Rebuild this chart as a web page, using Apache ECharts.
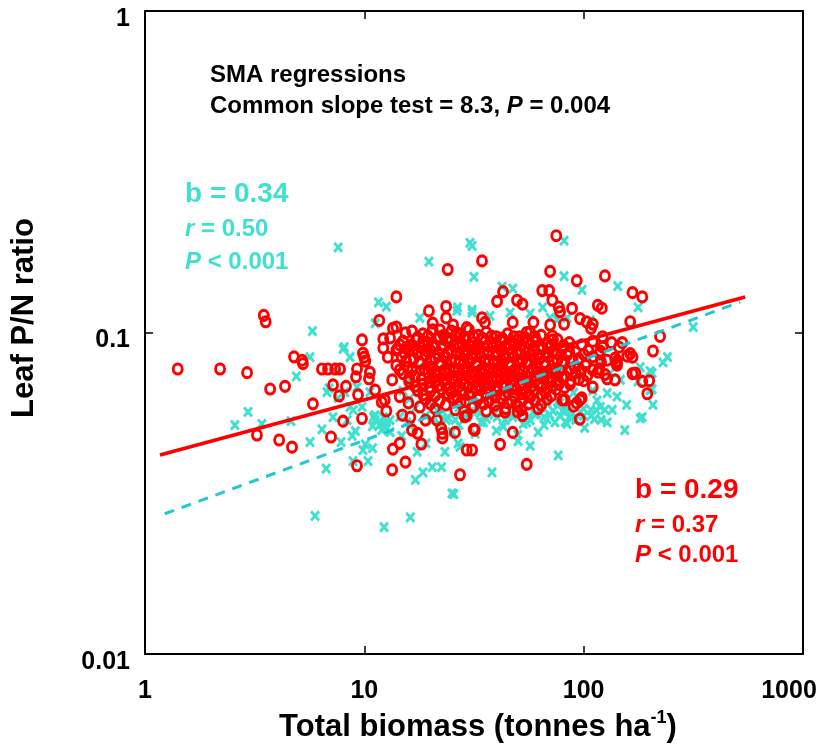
<!DOCTYPE html>
<html><head><meta charset="utf-8">
<script src="https://cdn.jsdelivr.net/npm/echarts@6/dist/echarts.min.js"></script>
<style>html,body{margin:0;padding:0;background:#fff}#c{width:823px;height:751px}</style>
</head><body><div id="c"></div>
<script>
// ---- tick labels ----
const xTickLabels = ['1', '10', '100', '1000'];
const yTickLabels = ['0.01', '0.1', '1'];

// ---- red series (o), outlying / sparse points [biomass, P/N] ----
const redOutliers = [
[1.41,0.077],[2.2,0.077],[2.92,0.075],[3.48,0.113],[3.55,0.108],[3.72,0.0667],[4.35,0.068],[4.78,0.084],[5.2,0.082],[5.25,0.080],
[3.24,0.048],[4.09,0.0463],[4.68,0.044],[5.83,0.060],[6.41,0.077],[6.83,0.077],[7.36,0.077],[7.75,0.077],[7.2,0.0687],[7.67,0.0635],
[8.25,0.068],[8.0,0.053],[7.05,0.0473],[9.76,0.0948],[9.86,0.0862],[10.0,0.0838],[9.26,0.077],[9.16,0.0728],[10.6,0.0752],[10.5,0.0718],
[9.36,0.064],[9.76,0.054],[9.26,0.0385],[11.7,0.109],[12.2,0.0955],[12.2,0.0895],[12.8,0.0838],[14.0,0.129],[13.5,0.0434],[13.4,0.0374],
[12.6,0.057],[12.4,0.0617],[10.1,0.0815],[11.2,0.0662],[12.0,0.0608],[13.4,0.0712],[14.5,0.0632],[14.5,0.0452],[15.4,0.0395],[14.9,0.0553],
[16.2,0.0545],[16.5,0.0497],[17.5,0.0486],[18.2,0.045],[19.0,0.0534],[15.9,0.0604],[17.9,0.0587],[21.4,0.0534],[22.7,0.0486],[22.7,0.047],
[25.9,0.0489],[27.3,0.0361],[29.3,0.0431],[29.3,0.0551],[20.5,0.107],[22.1,0.1018],[23.6,0.111],[25.4,0.1055],[26.4,0.0997],[29.3,0.1035],
[19.7,0.1167],[23.6,0.1205],[24,0.157],[13.5,0.103],[15.4,0.0997],[13.1,0.0962],[14.0,0.0882],[15.6,0.090],[16.7,0.0882],[18.5,0.0937],[14.0,0.104],
[75,0.20],[34.4,0.167],[70.3,0.155],[93,0.145],[125,0.150],[167,0.133],[185,0.129],[64.7,0.135],[69.6,0.135],[72,0.126],
[42.9,0.134],[40.3,0.125],[49.7,0.126],[52.6,0.1225],[116,0.1215],[121,0.119],[163,0.108],[223,0.0972],[207,0.0876],[167,0.0745],
[185,0.0705],[199,0.0708],[195,0.0645],[158,0.0844],[163,0.086],[142,0.0815],[142,0.0792],[125,0.074],[128,0.0718],[116,0.0753],
[110,0.0676],[100,0.0708],[98,0.0626],[93,0.0604],[96,0.0538],[82,0.0617],[76.5,0.0708],[70.3,0.0705],[86.7,0.069],[77,0.12],
[88.5,0.1188],[96.3,0.1105],[81.4,0.1062],[103,0.108],[110,0.1062],[70.3,0.1055],[59,0.1075],[47.5,0.1075],[34.4,0.111],[35.5,0.1075],
[55,0.1],[72.5,0.0948],[110,0.0938],[122,0.097],[134,0.093],[150,0.093],[47.5,0.0489],[41.6,0.0449],[55,0.0389],[52.6,0.0551],
[50,0.0566],[40.5,0.057],[43.8,0.0566],[31.9,0.0497],[31,0.0431],[108,0.103],[167,0.0838],[139,0.0832],[141,0.080],[139,0.0712],
[172,0.0748],[96.3,0.0617],[90,0.059],[80,0.0617],[119,0.0876],[122,0.090],[145,0.090],[78,0.116],[22.4,0.0504],[28.7,0.0547],[31.5,0.05]
];

// ---- red series (o), dense central cloud ----
const redCore = [
[16.5,0.101],[18.5,0.099],[20.5,0.102],[23,0.098],[25,0.101],[27.5,0.099],[30,0.102],[33,0.098],[36,0.1],[40,0.097],[45,0.099],[51,0.097],[57,0.1],[64,0.098],
[15,0.094],[17.2,0.095],[19.5,0.093],[21.5,0.096],[24,0.094],[26.5,0.092],[29,0.095],[31.5,0.093],[34.5,0.095],[38,0.093],[42,0.094],[46,0.092],[50,0.095],[55,0.093],[61,0.094],[68,0.092],[76,0.095],[86,0.093],
[14.2,0.089],[16,0.088],[18,0.090],[20,0.088],[22.5,0.089],[25,0.087],[27,0.09],[29.5,0.088],[32,0.089],[35,0.087],[38.5,0.09],[42,0.088],[45.5,0.089],[49.5,0.087],[54,0.09],[59,0.088],[65,0.089],[72,0.087],[80,0.089],[92,0.087],[105,0.088],
[14.8,0.084],[16.8,0.083],[19,0.085],[21,0.083],[23.5,0.084],[26,0.082],[28.5,0.085],[31,0.083],[34,0.084],[37,0.082],[40.5,0.085],[44,0.083],[48,0.084],[52.5,0.082],[57.5,0.085],[63,0.083],[69,0.084],[76,0.082],[84,0.085],[95,0.083],[110,0.084],[128,0.082],
[14,0.079],[15.8,0.078],[18,0.08],[20,0.078],[22,0.079],[24.5,0.077],[27,0.08],[29.5,0.078],[32.5,0.079],[35.5,0.077],[39,0.08],[42.5,0.078],[46.5,0.079],[51,0.077],[56,0.08],[61,0.078],[67,0.079],[74,0.077],[82,0.08],[91,0.078],[102,0.079],[118,0.077],
[15,0.0745],[17,0.073],[19.5,0.075],[21.5,0.0735],[24,0.0745],[26.5,0.073],[29,0.075],[32,0.0735],[35,0.0745],[38.5,0.073],[42,0.075],[46,0.0735],[50.5,0.0745],[55.5,0.073],[61,0.075],[67,0.0735],[74,0.0745],[82,0.073],[92,0.075],[104,0.0735],
[16,0.0705],[18.5,0.069],[21,0.0705],[23.5,0.069],[26,0.0705],[28.5,0.069],[31.5,0.0705],[35,0.069],[38.5,0.0705],[42.5,0.069],[46.5,0.0705],[51,0.069],[56,0.0705],[62,0.069],[69,0.0705],[77,0.069],[87,0.0705],
[17.5,0.066],[20,0.0655],[22.5,0.0665],[25,0.065],[28,0.066],[31,0.065],[34,0.0665],[37.5,0.065],[41,0.066],[45,0.065],[49.5,0.0665],[54.5,0.065],[60,0.066],[67,0.065],[75,0.0665],
[19,0.062],[22,0.0612],[25.5,0.0625],[29,0.061],[33,0.062],[37,0.0612],[42,0.0625],[47,0.061],[53,0.062],[60,0.0612],[68,0.062],
[21,0.058],[26,0.0575],[31,0.0585],[36,0.057],[44,0.058],[52,0.0575],[62,0.058],
[17.5,0.0965],[19.5,0.0975],[22,0.097],[24,0.096],[26,0.0975],[28.5,0.0965],[31.5,0.097],[34.5,0.096],[38,0.0975],[42.5,0.096],[48,0.097],[54,0.0965],[60,0.097],[72,0.0975],
[14.5,0.0915],[16.2,0.091],[18.5,0.092],[20.5,0.0905],[23,0.0915],[25.5,0.091],[28,0.092],[30.5,0.0905],[33,0.0915],[36.5,0.091],[40,0.092],[44,0.0905],[48,0.0915],[52,0.091],[57,0.092],[64,0.0905],[71,0.0915],[81,0.091],[98,0.0915],
[15.2,0.0865],[17.5,0.086],[19.5,0.087],[21.8,0.0855],[24,0.0865],[26.5,0.086],[28.8,0.087],[31,0.0855],[33.5,0.0865],[36.5,0.086],[40,0.087],[43.5,0.0855],[47,0.0865],[51.5,0.086],[56,0.087],[61.5,0.0855],[68,0.0865],[76,0.086],[86,0.087],[100,0.0855],[118,0.086],
[15.5,0.0815],[17.8,0.081],[20,0.082],[22.2,0.0805],[24.8,0.0815],[27.3,0.081],[30,0.082],[32.5,0.0805],[35.5,0.0815],[38.8,0.081],[42.2,0.082],[46,0.0805],[50,0.0815],[55,0.081],[60,0.082],[66,0.0805],[72.5,0.0815],[80,0.081],[89,0.082],[103,0.0805],[120,0.081],
[14.5,0.0765],[16.5,0.076],[18.8,0.077],[21,0.0755],[23.2,0.0765],[25.8,0.076],[28.2,0.077],[30.8,0.0755],[34,0.0765],[37,0.076],[40.5,0.077],[44,0.0755],[48.5,0.0765],[53,0.076],[58.5,0.077],[64,0.0755],[70.5,0.0765],[78,0.076],[87,0.077],[97,0.0755],[110,0.0765],
[16,0.0722],[18.2,0.0715],[20.5,0.0725],[22.8,0.0712],[25.2,0.0722],[27.8,0.0715],[30.5,0.0725],[33.5,0.0712],[36.8,0.0722],[40.2,0.0715],[44,0.0725],[48.2,0.0712],[53,0.0722],[58.5,0.0715],[64.5,0.0725],[71.5,0.0712],[80,0.0722],[95,0.0715],
[17,0.068],[19.8,0.0675],[22,0.0685],[24.5,0.067],[27,0.068],[29.8,0.0675],[33,0.0685],[36.5,0.067],[40,0.068],[44,0.0675],[48.5,0.0685],[53,0.067],[58,0.068],[64.5,0.0675],[72,0.068],[82,0.0675],
[18.5,0.064],[21,0.0635],[24,0.0645],[26.5,0.063],[30,0.064],[33,0.0635],[36,0.0645],[39.5,0.063],[43.5,0.064],[48,0.0635],[52,0.0645],[57,0.063],[64,0.064],[71,0.0635],
[20,0.06],[23.5,0.0595],[27.5,0.0605],[31.5,0.059],[35,0.06],[39.5,0.0595],[45,0.0605],[50,0.059],[56,0.06],[64,0.0595]
];

// ---- cyan series (x), outlying / sparse points ----
const cyanOutliers = [
[7.6,0.184],[5.8,0.101],[8.1,0.090],[5.65,0.0838],[4.9,0.073],[2.95,0.0566],[2.57,0.0515],[3.41,0.052],[4.63,0.053],[6.41,0.050],
[5.65,0.0456],[7.83,0.0456],[6.7,0.0377],[8.88,0.0398],[10.4,0.0398],[5.96,0.0269],[12.3,0.0248],[11.6,0.124],[12.6,0.1203],[11.2,0.1068],
[8.61,0.0838],[7.5,0.0776],[8.15,0.0652],[6.76,0.0652],[8.61,0.0587],[9.76,0.0587],[8.35,0.0534],[7.2,0.0545],[9.1,0.0493],[11.2,0.0534],
[10.6,0.0652],[9.26,0.0676],[12.6,0.0508],[10.9,0.0437],[9.86,0.0431],[8.0,0.0888],[6.9,0.067],[7.6,0.0626],[8.9,0.0574],[11.0,0.0545],
[8.8,0.0477],[10.1,0.0449],[16.2,0.0266],[25.6,0.0314],[17.1,0.0348],[18.5,0.0367],[20.4,0.0381],[22.5,0.0381],[17.4,0.0425],[19.1,0.0452],
[23.3,0.0425],[26.8,0.0452],[17.9,0.111],[26.4,0.1167],[11.2,0.0553],[12.2,0.0545],[13.1,0.0534],[11.8,0.0518],[10.9,0.0511],[12.4,0.0508],
[14.5,0.0545],[15.6,0.0525],[16.2,0.0511],[14.8,0.0477],[13.1,0.049],
[30.3,0.19],[31,0.186],[81.4,0.193],[19.7,0.166],[31.6,0.149],[81.4,0.1497],[98.3,0.1356],[42.5,0.139],[47.5,0.137],[26.6,0.1197],
[31,0.1154],[65,0.1197],[70.3,0.111],[107,0.109],[143,0.1395],[177,0.1197],[230,0.0808],[181,0.078],[201,0.0758],[177,0.0705],
[201,0.0662],[207,0.0596],[157,0.0596],[185,0.0545],[154,0.0497],[142,0.0632],[128,0.0648],[112,0.0538],[101,0.0505],[76.5,0.0415],
[57,0.0444],[50.2,0.0459],[38.2,0.0367],[25.1,0.0316],[82.4,0.0527],[68,0.0604],[72.5,0.057],[78,0.0551],[86.7,0.0574],[61,0.0559],
[53.6,0.0574],[75.7,0.1093],[83.9,0.111],[57,0.1146],[46.2,0.1154],[37.4,0.1127],[31,0.1175],[316,0.104],[241,0.0838],[205,0.0748],
[205,0.0667],[181,0.0541],[119,0.0587],[108,0.0574],[86.7,0.0551],[119,0.0808],[132,0.0748],[147,0.0712],[27.3,0.0441],[12,0.0497],
[12.6,0.0525],[78,0.0604],[114,0.0574],[96.3,0.0566],[68,0.0538],[57,0.0534],[47.5,0.0545],[40.3,0.0545],[33.7,0.056],[29.3,0.0545],
[23.6,0.0534],[20.5,0.0534],
[22,0.056],[26,0.0535],[30,0.0565],[35,0.0525],[39,0.0555],[44,0.0535],[49,0.0565],[55,0.0525],[60,0.0555],[66,0.0545],
[74,0.0525],[82,0.0565],[92,0.0535],[100,0.055],[120,0.0535],[135,0.0575],[128,0.0525]
];

// ---- cyan series (x), dense central cloud ----
const cyanCore = [
[20,0.085],[26,0.086],[33,0.084],[42,0.085],[55,0.084],[70,0.086],
[18,0.078],[24,0.079],[30,0.077],[38,0.078],[48,0.079],[62,0.077],[80,0.078],
[16,0.072],[21,0.073],[27,0.071],[34,0.072],[44,0.073],[57,0.071],[75,0.072],[95,0.073],
[15,0.066],[19,0.067],[24,0.065],[30,0.066],[37,0.067],[46,0.065],[58,0.066],[72,0.067],[90,0.065],[110,0.066],
[16,0.062],[20,0.061],[25,0.0625],[31,0.061],[39,0.062],[48,0.0615],[60,0.062],[76,0.061],[95,0.062],[115,0.0615],
[17,0.058],[21.5,0.0575],[27,0.0585],[33,0.057],[41,0.058],[51,0.0575],[64,0.0585],[80,0.057],[100,0.058],[125,0.0575],
[19,0.055],[24,0.0545],[29,0.0555],[36,0.054],[45,0.055],[56,0.0545],[70,0.0555],[88,0.054],[108,0.055],
[22,0.052],[27,0.0515],[34,0.0525],[43,0.051],[53,0.052],[66,0.0515],[84,0.052],
[25,0.049],[32,0.0485],[40,0.0495],[50,0.048],[62,0.049]
];

// ---- SMA regression line end points ----
const redLine = [[1.17, 0.0416], [545, 0.129]];
const cyanLine = [[1.23, 0.0273], [517, 0.1244]];

const FONT = 'Arial, "Liberation Sans", Helvetica, sans-serif';
const CYAN = '#40E0D0';
const RED = '#FF0000';

function fmtX(v) {
  const k = Math.round(Math.log10(v));
  const s = xTickLabels[k];
  return k === xTickLabels.length - 1 ? '{m|' + s + '}' : s;
}
function fmtY(v) {
  const k = Math.round(Math.log10(v)) + 2;
  return yTickLabels[k];
}
function rt(size, color, italic) {
  return { fontSize: size, fontWeight: 'bold', fontFamily: FONT, fill: color, fontStyle: italic ? 'italic' : 'normal' };
}
function label(x, y, text, size, color) {
  return {
    type: 'text', x: x, y: y, z: 100,
    style: {
      text: text, align: 'left', verticalAlign: 'middle',
      fontSize: size, fontWeight: 'bold', fontFamily: FONT, fill: color,
      rich: { n: rt(size, color, false), i: rt(size, color, true) }
    }
  };
}

const axisLineStyle = { color: '#000', width: 2 };
const tickStyle = { show: true, inside: true, length: 8, lineStyle: { color: '#000', width: 1.5 } };

const chart = echarts.init(document.getElementById('c'), null, { renderer: 'canvas' });
chart.setOption({
  animation: false,
  backgroundColor: '#fff',
  grid: { left: 145, right: 20, top: 11, bottom: 97, containLabel: false, outerBoundsMode: 'none' },
  xAxis: [
    {
      type: 'log', logBase: 10, min: 1, max: 1000, position: 'bottom',
      axisLine: { show: true, lineStyle: axisLineStyle },
      axisTick: tickStyle, minorTick: { show: false }, splitLine: { show: false },
      axisLabel: {
        show: true, margin: 25, color: '#000', fontSize: 25, fontWeight: 'bold', fontFamily: FONT,
        showMinLabel: true, showMaxLabel: true, formatter: fmtX,
        rich: { m: { padding: [0, 28, 0, 0], color: '#000', fontSize: 25, fontWeight: 'bold', fontFamily: FONT } }
      }
    },
    {
      type: 'log', logBase: 10, min: 1, max: 1000, position: 'top',
      axisLine: { show: true, lineStyle: axisLineStyle },
      axisTick: tickStyle, axisLabel: { show: false }, splitLine: { show: false }
    }
  ],
  yAxis: [
    {
      type: 'log', logBase: 10, min: 0.01, max: 1, position: 'left',
      axisLine: { show: true, lineStyle: axisLineStyle },
      axisTick: tickStyle, minorTick: { show: false }, splitLine: { show: false },
      axisLabel: {
        show: true, margin: 15, color: '#000', fontSize: 25, fontWeight: 'bold', fontFamily: FONT,
        showMinLabel: true, showMaxLabel: true, formatter: fmtY,
        verticalAlign: 'top', lineHeight: 16
      }
    },
    {
      type: 'log', logBase: 10, min: 0.01, max: 1, position: 'right',
      axisLine: { show: true, lineStyle: axisLineStyle },
      axisTick: tickStyle, axisLabel: { show: false }, splitLine: { show: false }
    }
  ],
  series: [
    {
      type: 'scatter', xAxisIndex: 0, yAxisIndex: 0, z: 2, silent: true,
      data: cyanCore.concat(cyanOutliers),
      symbol: 'path://M0,0L10,10M10,0L0,10', symbolSize: [8, 9],
      itemStyle: { color: 'rgba(0,0,0,0)', borderColor: CYAN, borderWidth: 3, opacity: 1 }
    },
    {
      type: 'scatter', xAxisIndex: 0, yAxisIndex: 0, z: 3, silent: true,
      data: redCore.concat(redOutliers),
      symbol: 'circle', symbolSize: [9, 10],
      itemStyle: { color: 'rgba(0,0,0,0)', borderColor: RED, borderWidth: 3, opacity: 1 }
    },
    {
      type: 'line', xAxisIndex: 0, yAxisIndex: 0, z: 4, silent: true,
      data: redLine, showSymbol: false, symbol: 'none',
      lineStyle: { color: RED, width: 3.5 }
    },
    {
      type: 'line', xAxisIndex: 0, yAxisIndex: 0, z: 5, silent: true,
      data: cyanLine, showSymbol: false, symbol: 'none',
      lineStyle: { color: '#20C8D0', width: 3, type: [10, 8] }
    }
  ],
  graphic: [
    label(210, 75, 'SMA regressions', 24, '#000'),
    label(210, 106, '{n|Common slope test = 8.3, }{i|P}{n| = 0.004}', 24, '#000'),
    label(185, 194, 'b = 0.34', 28, CYAN),
    label(185, 229, '{i|r}{n| = 0.50}', 24, CYAN),
    label(185, 262, '{i|P}{n| < 0.001}', 24, CYAN),
    label(635, 490, 'b = 0.29', 28, RED),
    label(635, 525, '{i|r}{n| = 0.37}', 24, RED),
    label(635, 555, '{i|P}{n| < 0.001}', 24, RED),
    {
      type: 'text', x: 24, y: 318, rotation: Math.PI / 2, z: 100,
      style: { text: 'Leaf P/N ratio', align: 'center', verticalAlign: 'middle', fontSize: 31, fontWeight: 'bold', fontFamily: FONT, fill: '#000' }
    },
    {
      type: 'text', x: 478, y: 727, z: 100,
      style: {
        text: '{a|Total biomass (tonnes ha}{s|-1}{a|)}', align: 'center', verticalAlign: 'middle',
        fontSize: 31, fontWeight: 'bold', fontFamily: FONT, fill: '#000',
        rich: {
          a: { fontSize: 31, fontWeight: 'bold', fontFamily: FONT, fill: '#000', lineHeight: 36 },
          s: { fontSize: 18, fontWeight: 'bold', fontFamily: FONT, fill: '#000', verticalAlign: 'top' }
        }
      }
    }
  ]
});
</script>
</body></html>
